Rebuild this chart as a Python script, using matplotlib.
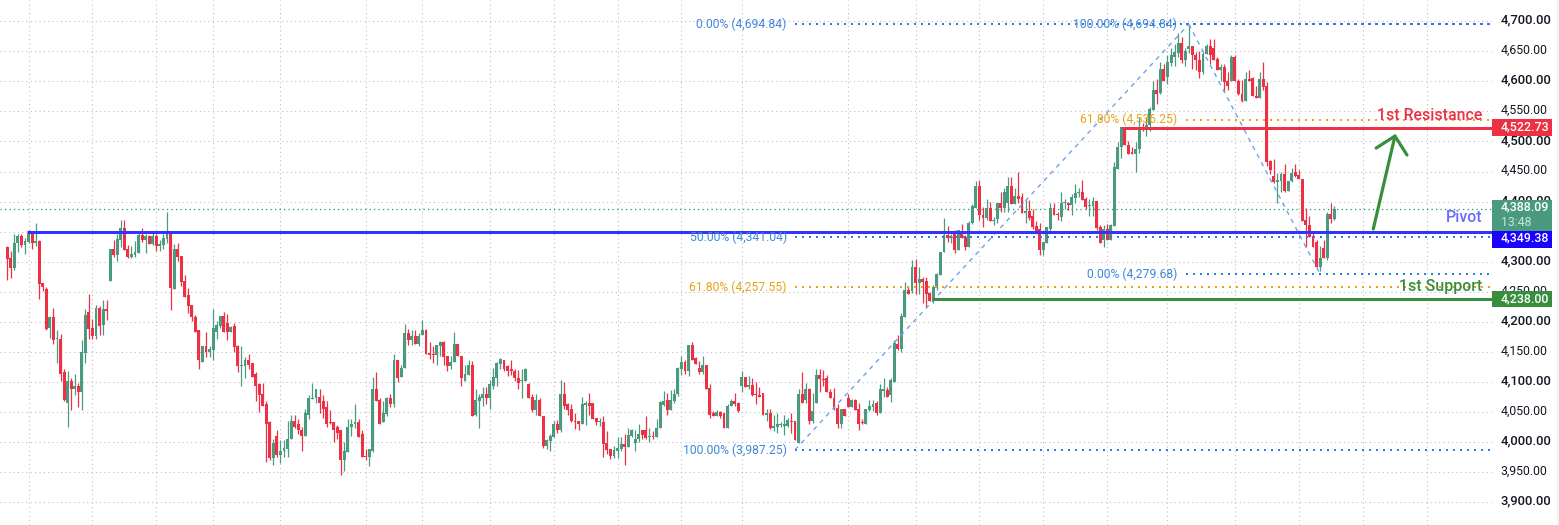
import matplotlib
matplotlib.use("Agg")
import matplotlib.pyplot as plt
from matplotlib.patches import Rectangle
from matplotlib.transforms import ScaledTranslation
import numpy as np

opens = [4325,4306,4290,4331,4343,4328,4333,4349,4332,4335,
4265,4255,4190,4208,4171,4172,4116,4066,4101,4089,
4094,4084,4149,4217,4190,4177,4223,4195,4222,4268,
4321,4311,4336,4356,4321,4308,4311,4315,4344,4336,
4343,4330,4343,4326,4328,4338,4349,4255,4321,4310,
4268,4245,4228,4208,4186,4134,4160,4150,4154,4184,
4194,4210,4199,4184,4194,4160,4127,4127,4137,4131,
4114,4096,4081,4063,4033,3973,4010,3978,3985,3988,
4006,4036,4030,4021,4010,4046,4072,4073,4076,4068,
4058,4034,4033,4025,4021,3971,3983,4025,4030,4033,
4013,3977,3975,3986,4089,4071,4034,4047,4073,4064,
4136,4108,4124,4181,4170,4177,4164,4179,4187,4149,
4146,4145,4160,4167,4143,4127,4134,4164,4144,4101,
4111,4129,4045,4069,4074,4081,4074,4094,4107,4130,
4136,4126,4121,4118,4107,4101,4102,4097,4075,4053,
4070,4043,3994,4002,4008,4031,4021,4081,4064,4055,
4036,4035,4030,4062,4065,4066,4041,4033,4033,3998,
3988,3977,3986,3988,3997,3992,4011,3999,4005,4021,
4021,4009,4010,4009,4023,4062,4070,4053,4068,4080,
4121,4134,4118,4162,4140,4123,4116,4128,4090,4048,
4043,4051,4048,4024,4060,4068,4065,4093,4109,4092,
4095,4080,4078,4082,4045,4048,4023,4026,4028,4027,
4027,4036,4035,3999,4081,4071,4088,4036,4066,4112,
4105,4107,4084,4074,4057,4031,4056,4074,4059,4071,
4055,4033,4030,4053,4059,4065,4049,4086,4087,4078,
4100,4164,4155,4209,4253,4252,4291,4265,4271,4268,
4248,4237,4256,4278,4316,4344,4339,4346,4320,4346,
4342,4324,4364,4390,4426,4377,4373,4389,4368,4371,
4397,4389,4397,4426,4396,4409,4407,4381,4385,4376,
4359,4354,4320,4332,4355,4389,4380,4375,4397,4398,
4394,4406,4414,4416,4404,4392,4392,4401,4357,4337,
4355,4336,4360,4455,4490,4524,4494,4482,4480,4488,
4524,4519,4527,4552,4586,4580,4621,4608,4631,4640,
4647,4664,4635,4654,4658,4644,4636,4616,4645,4659,
4655,4637,4619,4623,4600,4601,4641,4601,4579,4568,
4604,4605,4576,4573,4604,4593,4467,4442,4433,4435,
4446,4417,4434,4450,4444,4438,4369,4361,4343,4333,
4291,4323,4306,4380,4371]

highs = [4326,4318,4347,4347,4346,4340,4353,4350,4364,4336,
4265,4258,4210,4223,4187,4180,4122,4118,4107,4114,
4098,4170,4222,4247,4205,4228,4227,4237,4237,4321,
4336,4347,4369,4369,4328,4326,4334,4349,4356,4347,
4344,4349,4346,4336,4346,4382,4350,4330,4331,4310,
4278,4257,4228,4212,4187,4160,4184,4160,4222,4202,
4210,4217,4214,4194,4199,4162,4160,4142,4146,4131,
4116,4099,4099,4068,4036,4005,4020,4003,4003,4036,
4046,4046,4038,4025,4056,4079,4098,4089,4088,4078,
4069,4053,4033,4028,4021,4000,4039,4039,4064,4038,
4021,3988,3988,4109,4117,4073,4069,4076,4081,4146,
4137,4129,4197,4188,4187,4187,4182,4204,4188,4167,
4160,4162,4168,4168,4143,4143,4183,4164,4144,4129,
4136,4135,4089,4080,4092,4092,4104,4124,4133,4140,
4136,4129,4136,4121,4120,4121,4124,4098,4081,4080,
4074,4044,4005,4013,4035,4037,4104,4100,4066,4063,
4049,4036,4076,4068,4082,4066,4041,4041,4044,4018,
3988,3994,4009,4008,4013,4024,4022,4021,4030,4021,
4043,4024,4019,4038,4068,4085,4082,4087,4088,4125,
4144,4136,4162,4167,4142,4135,4143,4128,4096,4052,
4053,4052,4049,4063,4072,4082,4067,4118,4109,4110,
4107,4100,4091,4082,4055,4055,4046,4048,4033,4045,
4041,4049,4035,4088,4117,4099,4090,4082,4122,4121,
4120,4112,4089,4090,4063,4056,4056,4081,4072,4072,
4065,4038,4056,4070,4070,4068,4096,4107,4092,4107,
4170,4179,4215,4267,4259,4303,4304,4292,4274,4275,
4250,4262,4281,4316,4372,4359,4347,4353,4352,4363,
4345,4367,4396,4435,4436,4391,4404,4400,4374,4397,
4416,4422,4441,4441,4422,4450,4414,4402,4402,4387,
4367,4364,4333,4357,4398,4398,4383,4416,4404,4400,
4413,4429,4422,4436,4407,4404,4408,4401,4361,4361,
4363,4363,4466,4499,4524,4524,4500,4490,4499,4541,
4530,4541,4557,4601,4604,4632,4629,4643,4656,4662,
4680,4673,4656,4694,4659,4649,4651,4651,4662,4670,
4670,4640,4629,4629,4615,4643,4643,4604,4602,4616,
4618,4607,4593,4615,4632,4599,4469,4471,4447,4449,
4463,4435,4456,4462,4452,4438,4389,4376,4350,4336,
4326,4336,4383,4397,4393]

lows = [4270,4273,4287,4317,4325,4313,4332,4321,4326,4238,
4252,4186,4174,4163,4132,4102,4068,4025,4054,4078,
4059,4054,4132,4172,4172,4172,4179,4179,4204,4268,
4308,4301,4325,4320,4306,4306,4308,4315,4333,4315,
4330,4328,4318,4318,4322,4331,4220,4255,4301,4260,
4242,4215,4201,4184,4122,4134,4142,4142,4137,4172,
4190,4184,4170,4184,4150,4116,4093,4107,4121,4109,
4069,4051,4061,3967,3970,3962,3975,3965,3975,3975,
4006,4023,4013,3985,4010,4038,4072,4066,4049,4041,
4026,4031,4001,4006,3945,3953,3983,4010,4023,4008,
3975,3971,3961,3983,4069,4030,4033,4043,4059,4059,
4100,4108,4124,4161,4161,4164,4160,4179,4146,4138,
4132,4129,4143,4128,4118,4121,4134,4143,4094,4101,
4111,4044,4044,4023,4060,4063,4056,4088,4094,4121,
4118,4110,4111,4101,4088,4074,4102,4073,4051,4045,
4043,3990,3988,3986,4008,4016,4017,4056,4046,4034,
4022,4020,4030,4028,4045,4038,4028,4027,3976,3980,
3972,3974,3974,3986,3962,3992,4008,3985,4000,4005,
4005,4000,4005,4009,4023,4061,4046,4053,4066,4077,
4111,4113,4110,4136,4130,4114,4114,4089,4041,4043,
4043,4041,4024,4024,4060,4060,4051,4083,4092,4088,
4077,4063,4076,4045,4035,4022,4019,4015,4026,4012,
4026,4016,4003,3999,4066,4066,4030,4032,4066,4084,
4093,4083,4073,4053,4024,4024,4043,4059,4059,4054,
4021,4030,4030,4052,4052,4046,4049,4075,4076,4067,
4100,4154,4150,4209,4247,4248,4247,4247,4231,4224,
4234,4231,4253,4278,4316,4333,4332,4314,4320,4340,
4320,4324,4363,4389,4369,4358,4370,4367,4361,4364,
4383,4383,4383,4396,4396,4397,4381,4364,4370,4355,
4346,4312,4311,4331,4348,4377,4370,4367,4387,4386,
4378,4397,4407,4402,4387,4376,4376,4353,4331,4324,
4336,4336,4360,4455,4472,4494,4479,4480,4450,4481,
4518,4509,4518,4552,4562,4579,4601,4595,4626,4626,
4640,4630,4625,4647,4621,4619,4605,4612,4645,4629,
4635,4618,4601,4583,4585,4600,4600,4578,4565,4568,
4600,4575,4572,4573,4585,4460,4446,4431,4398,4416,
4416,4417,4433,4441,4438,4368,4325,4342,4325,4291,
4284,4306,4303,4364,4369]

closes = [4305,4290,4331,4343,4328,4335,4347,4332,4335,4263,
4258,4189,4208,4170,4172,4114,4071,4101,4089,4094,
4084,4150,4212,4189,4177,4223,4194,4222,4219,4321,
4311,4338,4356,4320,4308,4313,4316,4344,4336,4343,
4330,4343,4326,4330,4339,4346,4257,4321,4308,4267,
4242,4227,4208,4184,4136,4160,4150,4155,4190,4195,
4210,4184,4184,4192,4159,4126,4129,4137,4129,4109,
4094,4079,4061,4031,3973,3999,3978,3986,3990,4006,
4036,4026,4020,4010,4048,4073,4074,4089,4066,4056,
4031,4032,4021,4016,3971,3985,4026,4031,4033,4008,
3976,3976,3988,4089,4069,4031,4049,4073,4064,4136,
4107,4124,4181,4170,4177,4164,4177,4187,4147,4145,
4145,4161,4167,4142,4127,4134,4164,4143,4106,4113,
4129,4044,4070,4076,4080,4074,4096,4109,4131,4138,
4122,4119,4118,4106,4099,4102,4122,4073,4053,4070,
4043,3994,4003,4010,4031,4020,4081,4061,4054,4035,
4033,4030,4063,4065,4060,4039,4033,4034,3997,3987,
3977,3987,3990,3997,3992,4012,4021,4005,4013,4012,
4007,4010,4008,4024,4067,4068,4054,4070,4080,4123,
4134,4118,4162,4136,4130,4117,4128,4089,4045,4043,
4051,4043,4024,4061,4068,4063,4052,4109,4092,4095,
4078,4078,4076,4045,4048,4023,4027,4030,4030,4030,
4037,4033,4003,4081,4066,4088,4036,4052,4112,4105,
4103,4083,4073,4056,4031,4056,4043,4059,4071,4054,
4031,4032,4056,4061,4063,4049,4088,4087,4076,4103,
4165,4155,4210,4253,4247,4291,4265,4271,4267,4246,
4234,4258,4280,4316,4344,4339,4340,4320,4352,4340,
4325,4365,4392,4426,4377,4373,4389,4367,4369,4397,
4389,4416,4426,4396,4409,4405,4381,4384,4372,4358,
4348,4320,4333,4357,4389,4377,4378,4397,4398,4394,
4408,4415,4416,4402,4391,4393,4401,4356,4332,4355,
4336,4361,4457,4490,4524,4494,4480,4480,4488,4520,
4519,4528,4554,4586,4579,4621,4601,4632,4643,4648,
4664,4635,4651,4659,4644,4635,4616,4646,4658,4644,
4636,4619,4623,4599,4593,4641,4600,4579,4568,4604,
4600,4575,4573,4604,4591,4466,4452,4433,4436,4446,
4417,4435,4448,4443,4438,4368,4361,4342,4325,4291,
4307,4307,4380,4371,4388.09]

price_ticks = list(range(3900, 4701, 50))
time_grid = [6,24,42,58,77,101,117,136,154,172,190,207,237,256,274,292,310,327,346,364,382,400]

last_price = 4388.09
pivot = 4349.38
resistance = 4522.73
support = 4238.00
fib_high = 4694.84
fib_low = 3987.25
fib_low2 = 4279.68
fib_50 = 4341.04
fib_618a = 4257.55
fib_618b = 4536.25

UP = '#4a9a7f'
DOWN = '#ee3045'
BLUE = '#2f7bdc'
ORANGE = '#e8a317'
DIAG = '#6aa5e6'
GREEN = '#388e3c'
FIBTXT = '#3f86dc'

W, H = 1559, 525
AX_W = 1492
fig = plt.figure(figsize=(W/100, H/100), dpi=100, facecolor='white')
ax = fig.add_axes([0, 0, AX_W/W, 1])
plt.rcParams['font.family'] = ['Roboto', 'DejaVu Sans']

ax.set_xlim(-2.057, 418.46)
ax.set_ylim(3862.4, 4735.2)

for s in ax.spines.values():
    s.set_visible(False)
ax.set_axisbelow(True)
ax.yaxis.tick_right()
ax.set_yticks(price_ticks)
ax.set_yticklabels([f'{p:,.2f}' for p in price_ticks], color='#131722', family='Roboto')
ax.tick_params(axis='y', length=0, pad=6.1)
shift = ScaledTranslation(0, 2.5/100, fig.dpi_scale_trans)
for p, lab in zip(price_ticks, ax.get_yticklabels()):
    lab.set_transform(lab.get_transform() + shift)
    if p % 100 == 0:
        lab.set_fontweight('medium')
        lab.set_fontsize(9.4)
    else:
        lab.set_fontsize(8.8)
ax.set_xticks(time_grid)
ax.tick_params(axis='x', length=0, labelbottom=False)
ax.grid(True, color='#bdbdbd', linestyle=(0, (1, 3)), linewidth=0.78)

x = np.arange(len(opens))
o, h, l, c = map(np.array, (opens, highs, lows, closes))
cols = [UP if cc >= oo else DOWN for oo, cc in zip(o, c)]
ax.vlines(x, l, h, colors=cols, linewidth=0.9, zorder=2)
ax.bar(x, np.maximum(np.abs(c - o), 1.7), bottom=np.minimum(o, c), width=0.82, color=cols, linewidth=0, zorder=2.1)

# Price line
ax.axhline(last_price, color='#119a72', linestyle=(0, (1, 2.6)), linewidth=0.9, zorder=1.5)

# Key levels
ax.plot([5.5, 418.46], [pivot, pivot], color='#3333ff', lw=2.16, solid_capstyle='butt', zorder=3)
ax.plot([314.1, 418.46], [resistance, resistance], color=DOWN, lw=2.16, solid_capstyle='butt', zorder=3)
ax.plot([260.5, 418.46], [support, support], color=GREEN, lw=2.16, solid_capstyle='butt', zorder=3)

# Fib levels
dot = (0, (1, 2.5))
fib_a, fib_b, fib_end = 222, 333, 417.8
fib_c = 370
for y, colr, x0 in [(fib_high, BLUE, fib_a), (fib_low, BLUE, fib_a), (fib_50, BLUE, fib_a),
                    (fib_618a, ORANGE, fib_a), (fib_high, BLUE, fib_b - 0.8),
                    (fib_618b, ORANGE, fib_b - 0.8), (fib_low2, BLUE, fib_b - 0.8)]:
    ax.plot([x0, fib_end], [y, y], color=colr, lw=1.44, linestyle=dot, zorder=2.6)
ax.plot([fib_a, fib_b], [fib_low, fib_high], color=DIAG, lw=1.0, linestyle=(0, (3.2, 3.4)), zorder=2.6)
ax.plot([fib_b, fib_c], [fib_high, fib_low2], color=DIAG, lw=1.0, linestyle=(0, (3.2, 3.4)), zorder=2.6)

# Fib labels
def fib_label(xi, y, s, colr):
    ax.text(xi, y, s, ha='right', va='center', fontsize=8.7, color=colr, family='Roboto', zorder=4)
fib_label(219.7, fib_high, '0.00% (4,694.84)', FIBTXT)
fib_label(219.7, fib_low, '100.00% (3,987.25)', FIBTXT)
fib_label(219.7, fib_50, '50.00% (4,341.04)', FIBTXT)
fib_label(219.7, fib_618a, '61.80% (4,257.55)', ORANGE)
fib_label(329.8, fib_high, '100.00% (4,694.84)', FIBTXT)
fib_label(329.8, fib_618b, '61.80% (4,536.25)', ORANGE)
fib_label(329.8, fib_low2, '0.00% (4,279.68)', FIBTXT)

# Arrow
ax.plot([385, 391.1], [4354.4, 4509], color=GREEN, lw=2.3, solid_capstyle='round', zorder=4)
ax.plot([385.8, 391.1, 394.5], [4489, 4509, 4477.5], color=GREEN, lw=2.3, solid_capstyle='round', solid_joinstyle='round', zorder=4)

# Level texts
ax.text(415.7, 4544, '1st Resistance', ha='right', va='center', fontsize=11.4, fontweight='medium', color=DOWN, family='Roboto', zorder=4)
ax.text(415.7, 4373, 'Pivot', ha='right', va='center', fontsize=11.4, fontweight='medium', color='#6a6aff', family='Roboto', zorder=4)
ax.text(415.7, 4259, '1st Support', ha='right', va='center', fontsize=11.4, fontweight='medium', color=GREEN, family='Roboto', zorder=4)

# Price boxes
tr = ax.get_yaxis_transform()
bw = 60/AX_W
def box(y0, y1, colr):
    ax.add_patch(Rectangle((1.0, y0), bw, y1 - y0, transform=tr, facecolor=colr, edgecolor='none', clip_on=False, zorder=5))
def boxtext(y, s, colr='white', size=8.9, weight='medium'):
    ax.text(1 + 8.5/AX_W, y, s, transform=tr, ha='left', va='center', fontsize=size, fontweight=weight, color=colr, family='Roboto', clip_on=False, zorder=6)

box(4509, 4537, DOWN)
boxtext(4524, f'{resistance:,.2f}')
box(4351, 4402.7, UP)
boxtext(4391, f'{last_price:,.2f}')
boxtext(4366, '13:48', '#c6e8dc', 8.8, 'normal')
box(4322.8, 4351, '#1a00ff')
boxtext(4339.5, f'{pivot:,.2f}')
box(4224.9, 4251.4, GREEN)
boxtext(support, f'{support:,.2f}')

fig.patches.append(Rectangle((1557.3/W, 0), 1.7/W, 1, transform=fig.transFigure, facecolor='#f0f3f5', edgecolor='none'))

fig.savefig('out.png', dpi=100, facecolor='white')
